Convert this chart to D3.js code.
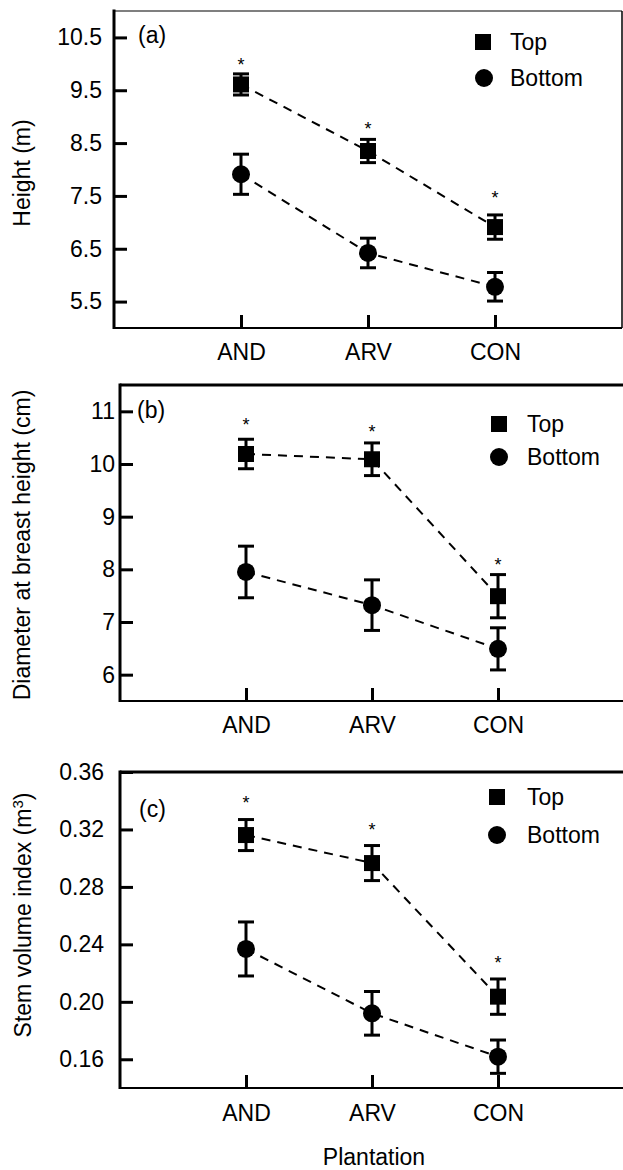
<!DOCTYPE html>
<html>
<head>
<meta charset="utf-8">
<script src="https://cdn.jsdelivr.net/npm/d3@7"></script>
<style>
    body { margin: 0; background: #fff; }
    svg text { font-family: "Liberation Sans", Arial, sans-serif; fill: #000; }
</style>
</head>
<body>
<div id="chart"></div>
<script>
var plantations = ["AND", "ARV", "CON"];
var seriesNames = ["Top", "Bottom"];

// (a) tree height (m)
var heightTop = [9.61, 8.35, 6.91];
var heightTopErr = [0.20, 0.22, 0.23];
var heightBottom = [7.91, 6.42, 5.78];
var heightBottomErr = [0.38, 0.28, 0.27];
var heightStar = [10.07, 8.86, 7.56];
var heightTicks = [5.5, 6.5, 7.5, 8.5, 9.5, 10.5];

// (b) diameter at breast height (cm)
var dbhTop = [10.19, 10.09, 7.49];
var dbhTopErr = [0.28, 0.31, 0.41];
var dbhBottom = [7.95, 7.32, 6.49];
var dbhBottomErr = [0.49, 0.48, 0.40];
var dbhStar = [10.84, 10.70, 8.18];
var dbhTicks = [6, 7, 8, 9, 10, 11];

// (c) stem volume index (m3)
var volTop = [0.3161, 0.2966, 0.2036];
var volTopErr = [0.0108, 0.0122, 0.0123];
var volBottom = [0.2368, 0.1920, 0.1618];
var volBottomErr = [0.0188, 0.0152, 0.0116];
var volStar = [0.3419, 0.3231, 0.2305];
var volTicks = [0.16, 0.20, 0.24, 0.28, 0.32, 0.36];

var w = 623;
var h = 1170;
var fontSize = 23;

var svg = d3.select("#chart").append("svg")
    .attr("width", w)
    .attr("height", h);

var panels = [
    {
        label: "(a)", title: "Height (m)", top: heightTop, topErr: heightTopErr,
        bottom: heightBottom, bottomErr: heightBottomErr, star: heightStar,
        ticks: heightTicks, fmt: d3.format(".1f"), domain: [5, 11],
        x0: 114, x1: 622, y0: 328, y1: 11, tickPad: 12, topWidth: 1.2,
        titleX: 30, titleY: 173, labelX: 138, labelY: 43,
        sq: [483, 42], ci: [484, 78], legendX: 510, xLabPad: 16
    },
    {
        label: "(b)", title: "Diameter at breast height (cm)", top: dbhTop, topErr: dbhTopErr,
        bottom: dbhBottom, bottomErr: dbhBottomErr, star: dbhStar,
        ticks: dbhTicks, fmt: d3.format("d"), domain: [5.5, 11.5],
        x0: 120, x1: 624, y0: 701, y1: 385, tickPad: 5, topWidth: 3,
        titleX: 30, titleY: 545, labelX: 137, labelY: 418,
        sq: [499, 424], ci: [499, 457], legendX: 527, xLabPad: 16
    },
    {
        label: "(c)", title: "Stem volume index (m", sup: "3", top: volTop, topErr: volTopErr,
        bottom: volBottom, bottomErr: volBottomErr, star: volStar,
        ticks: volTicks, fmt: d3.format(".2f"), domain: [0.14, 0.36],
        x0: 120, x1: 624, y0: 1088, y1: 772, tickPad: 16, topWidth: 3,
        titleX: 31, titleY: 915, labelX: 139, labelY: 817,
        sq: [497, 797], ci: [497, 835], legendX: 527, xLabPad: 17
    }
];

var sqSize = 16;
var circleR = 9;
var capW = 16;

panels.forEach(function (p) {
    var g = svg.append("g");

    var xScale = d3.scaleLinear().domain([0, 4]).range([p.x0, p.x1]);
    var yScale = d3.scaleLinear().domain(p.domain).range([p.y0, p.y1]);

    // frame
    g.append("line").attr("x1", p.x0).attr("x2", p.x1).attr("y1", p.y1).attr("y2", p.y1)
        .attr("stroke", "#000").attr("stroke-width", p.topWidth);
    g.append("line").attr("x1", p.x1).attr("x2", p.x1).attr("y1", p.y1).attr("y2", p.y0)
        .attr("stroke", "#000").attr("stroke-width", 1.5);
    g.append("line").attr("x1", p.x0).attr("x2", p.x1).attr("y1", p.y0).attr("y2", p.y0)
        .attr("stroke", "#000").attr("stroke-width", 2);
    g.append("line").attr("x1", p.x0).attr("x2", p.x0).attr("y1", p.y1 - 1.5).attr("y2", p.y0 + 1)
        .attr("stroke", "#000").attr("stroke-width", 3);

    var yAxis = d3.axisLeft(yScale)
        .tickValues(p.ticks)
        .tickFormat(p.fmt)
        .tickSizeInner(-13)
        .tickSizeOuter(0)
        .tickPadding(p.tickPad);

    var xAxis = d3.axisBottom(xScale)
        .tickValues([1, 2, 3])
        .tickFormat(function (d) { return plantations[d - 1]; })
        .tickSizeInner(-13)
        .tickSizeOuter(0)
        .tickPadding(p.xLabPad);

    var ya = g.append("g")
        .attr("transform", "translate(" + p.x0 + ",0)")
        .call(yAxis);
    var xa = g.append("g")
        .attr("transform", "translate(0," + p.y0 + ")")
        .call(xAxis);

    [ya, xa].forEach(function (a) {
        a.select(".domain").remove();
        a.selectAll(".tick line").attr("stroke", "#000").attr("stroke-width", 3);
        a.selectAll(".tick text").attr("font-size", fontSize).attr("fill", "#000");
        a.attr("font-family", null);
    });

    // series
    var series = [
        { name: "Top", vals: p.top, errs: p.topErr },
        { name: "Bottom", vals: p.bottom, errs: p.bottomErr }
    ];

    var line = d3.line()
        .x(function (d, i) { return xScale(i + 1); })
        .y(function (d) { return yScale(d); });

    series.forEach(function (s) {
        g.append("path")
            .attr("d", line(s.vals))
            .attr("fill", "none")
            .attr("stroke", "#000")
            .attr("stroke-width", 2)
            .attr("stroke-dasharray", "9,7");

        var eb = g.selectAll(null)
            .data(s.vals)
            .enter().append("g")
            .attr("stroke", "#000")
            .attr("stroke-width", 3);
        eb.append("line")
            .attr("x1", function (d, i) { return xScale(i + 1); })
            .attr("x2", function (d, i) { return xScale(i + 1); })
            .attr("y1", function (d, i) { return yScale(d - s.errs[i]); })
            .attr("y2", function (d, i) { return yScale(d + s.errs[i]); });
        [-1, 1].forEach(function (sgn) {
            eb.append("line")
                .attr("x1", function (d, i) { return xScale(i + 1) - capW / 2; })
                .attr("x2", function (d, i) { return xScale(i + 1) + capW / 2; })
                .attr("y1", function (d, i) { return yScale(d + sgn * s.errs[i]); })
                .attr("y2", function (d, i) { return yScale(d + sgn * s.errs[i]); });
        });

        if (s.name == "Top") {
            g.selectAll(null)
                .data(s.vals)
                .enter().append("rect")
                .attr("x", function (d, i) { return xScale(i + 1) - sqSize / 2; })
                .attr("y", function (d) { return yScale(d) - sqSize / 2; })
                .attr("width", sqSize)
                .attr("height", sqSize)
                .attr("fill", "#000");
        } else {
            g.selectAll(null)
                .data(s.vals)
                .enter().append("circle")
                .attr("cx", function (d, i) { return xScale(i + 1); })
                .attr("cy", function (d) { return yScale(d); })
                .attr("r", circleR)
                .attr("fill", "#000");
        }
    });

    // significance asterisks
    g.selectAll(null)
        .data(p.star)
        .enter().append("text")
        .attr("x", function (d, i) { return xScale(i + 1); })
        .attr("y", function (d) { return yScale(d); })
        .attr("dy", "0.6em")
        .attr("text-anchor", "middle")
        .attr("font-size", 18)
        .text("*");

    // legend
    g.append("rect")
        .attr("x", p.sq[0] - sqSize / 2).attr("y", p.sq[1] - sqSize / 2)
        .attr("width", sqSize).attr("height", sqSize).attr("fill", "#000");
    g.append("circle")
        .attr("cx", p.ci[0]).attr("cy", p.ci[1]).attr("r", circleR).attr("fill", "#000");
    g.append("text")
        .attr("x", p.legendX).attr("y", p.sq[1]).attr("dy", "0.36em")
        .attr("font-size", fontSize).text(seriesNames[0]);
    g.append("text")
        .attr("x", p.legendX).attr("y", p.ci[1]).attr("dy", "0.36em")
        .attr("font-size", fontSize).text(seriesNames[1]);

    // panel label
    g.append("text")
        .attr("x", p.labelX).attr("y", p.labelY)
        .attr("font-size", fontSize).text(p.label);

    // y title
    var t = g.append("text")
        .attr("transform", "translate(" + p.titleX + "," + p.titleY + ") rotate(-90)")
        .attr("text-anchor", "middle")
        .attr("font-size", fontSize)
        .text(p.title);
    if (p.sup) {
        t.append("tspan").attr("font-size", 15).attr("baseline-shift", "super").text(p.sup);
        t.append("tspan").text(")");
    }
});

svg.append("text")
    .attr("x", 374)
    .attr("y", 1165)
    .attr("text-anchor", "middle")
    .attr("font-size", fontSize)
    .text("Plantation");
</script>
</body>
</html>
